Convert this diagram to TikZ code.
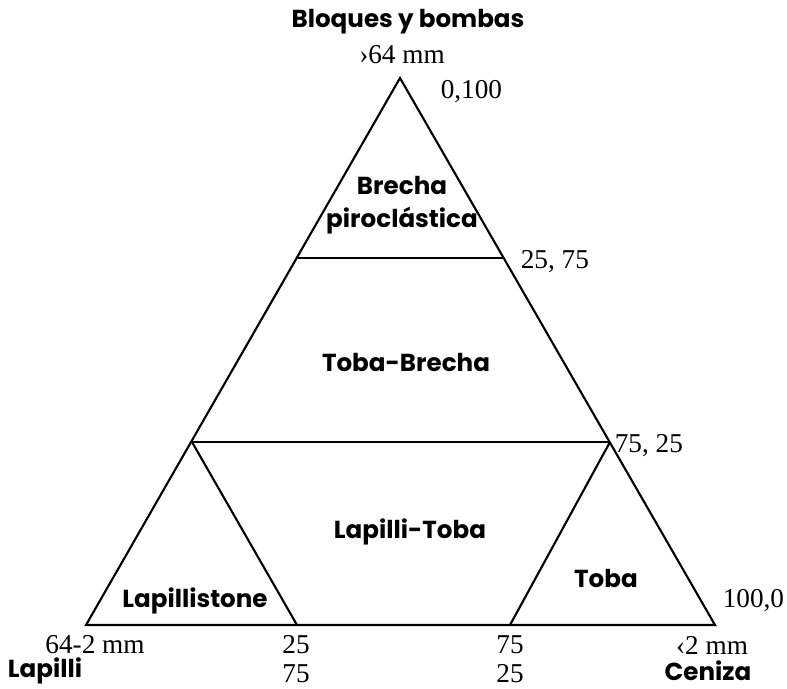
\documentclass[tikz,border=0pt]{standalone}
\usepackage{fontspec}
\setmainfont{Liberation Serif}
\newfontfamily\zonefont{Poppins}
\begin{document}
\begin{tikzpicture}[x=0.02cm, y=-0.02cm, line width=1.2pt,
  zone/.style={font=\zonefont\bfseries\fontsize{14}{19}\selectfont, align=center, inner sep=1pt},
  num/.style={font=\fontsize{15.5}{17}\selectfont, inner sep=1pt}]
  \useasboundingbox (0,0) rectangle (787,689);
  % vertices of the ternary diagram
  \coordinate (top) at (400,78);
  \coordinate (left) at (86,625);
  \coordinate (right) at (715,625);
  \coordinate (upL) at (297,258);
  \coordinate (upR) at (504,258);
  \coordinate (loL) at (192,442);
  \coordinate (loR) at (610,442);
  \coordinate (b25) at (297,625);
  \coordinate (b75) at (510,625);
  \draw (top) -- (left) -- (right) -- cycle;
  \draw (upL) -- (upR);
  \draw (loL) -- (loR);
  \draw (loL) -- (b25);
  \draw (loR) -- (b75);
  % labels
  \node[zone] (bloques) at (408,22) {Bloques y bombas};
  \node[num] (gt64) at (402,55) {›64 mm};
  \node[num, anchor=west] (p0100) at (438,92) {0,100};
  \node[zone] (brecha) at (402,205) {Brecha\\piroclástica};
  \node[num, anchor=west] (p2575) at (518,262) {25, 75};
  \node[zone] (tobabrecha) at (406,362) {Toba-Brecha};
  \node[num, anchor=west] (p7525) at (612,446) {75, 25};
  \node[zone] (lapillitoba) at (410,532) {Lapilli-Toba};
  \node[zone] (lapillistone) at (195,601) {Lapillistone};
  \node[zone] (toba) at (606,578) {Toba};
  \node[num, anchor=west] (p1000) at (720,601) {100,0};
  \node[num] (mm642) at (95,645) {64-2 mm};
  \node[zone] (lapilli) at (45,671) {Lapilli};
  \node[num] (l25a) at (296,645) {25};
  \node[num] (l75a) at (296,674) {75};
  \node[num] (r75a) at (510,645) {75};
  \node[num] (r25a) at (510,674) {25};
  \node[num] (lt2) at (712,645) {‹2 mm};
  \node[zone] (ceniza) at (708,671) {Ceniza};
\end{tikzpicture}
\end{document}
